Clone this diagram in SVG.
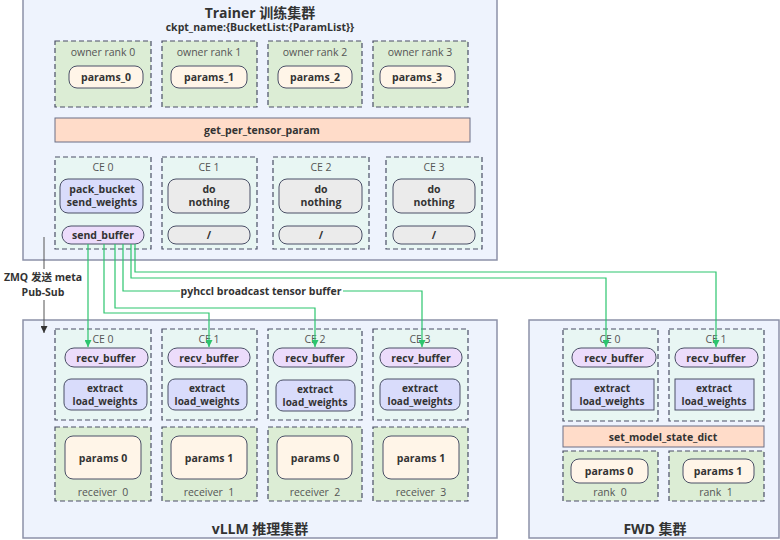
<svg xmlns="http://www.w3.org/2000/svg" width="780" height="540" viewBox="0 0 780 540">
<defs>
<style>
text{font-family:"Open Sans","Noto Sans CJK SC",sans-serif;text-anchor:middle;dominant-baseline:central;fill:#333}
.b{font-weight:bold;font-size:10.5px}
.e{font-weight:bold;font-size:10px}
.t{font-weight:bold;font-size:14px}
.s{font-weight:bold;font-size:10.5px}
.l{font-size:10.5px;fill:#555;white-space:pre}
.cl{fill:#eef3fd;stroke:#8c91a8;stroke-width:1.5}
.grp{fill:#dcedd5;stroke:#4a4f66;stroke-width:1.2;stroke-dasharray:5 3}
.ce{fill:#e8f6f3;stroke:#4a4f66;stroke-width:1.2;stroke-dasharray:5 3}
.par{fill:#fff5e8;stroke:#4a4f66;stroke-width:1}
.op{fill:#d9dcfb;stroke:#4a4f66;stroke-width:1}
.no{fill:#ebebeb;stroke:#4a4f66;stroke-width:1}
.buf{fill:#ecdcfb;stroke:#4a4f66;stroke-width:1}
.bar{fill:#ffdcc9;stroke:#6a6f86;stroke-width:1}
.g{fill:none;stroke:#2cc56e;stroke-width:1.2}
.z{fill:none;stroke:#555;stroke-width:1}
</style>
<marker id="ag" viewBox="0 0 10 10" refX="10" refY="5" markerWidth="7" markerHeight="7" orient="auto" markerUnits="userSpaceOnUse">
<path d="M0,0 L10,5 L0,10 z" fill="#2cc56e"/>
</marker>
<marker id="ak" viewBox="0 0 10 10" refX="10" refY="5" markerWidth="7" markerHeight="7" orient="auto" markerUnits="userSpaceOnUse">
<path d="M0,0 L10,5 L0,10 z" fill="#333"/>
</marker>
</defs>
<rect width="780" height="540" fill="#fff"/>

<g id="trainer">
<rect class="cl" x="23" y="-2" width="474" height="262"/>
<text class="t" x="260" y="12">Trainer 训练集群</text>
<text class="s" x="260" y="27">ckpt_name:{BucketList:{ParamList}}</text>
</g>
<g id="owner0"><rect class="grp" x="55" y="41" width="96" height="66"/><text class="l" x="103" y="52">owner rank 0</text><rect class="par" x="69" y="66" width="74" height="22" rx="8"/><text class="b" x="106" y="77">params_0</text></g>
<g id="owner1"><rect class="grp" x="162" y="41" width="95" height="66"/><text class="l" x="209" y="52">owner rank 1</text><rect class="par" x="171" y="66" width="76" height="22" rx="8"/><text class="b" x="209" y="77">params_1</text></g>
<g id="owner2"><rect class="grp" x="268" y="41" width="94" height="66"/><text class="l" x="315" y="52">owner rank 2</text><rect class="par" x="278" y="66" width="74" height="22" rx="8"/><text class="b" x="315" y="77">params_2</text></g>
<g id="owner3"><rect class="grp" x="373" y="41" width="95" height="66"/><text class="l" x="420" y="52">owner rank 3</text><rect class="par" x="380" y="66" width="75" height="22" rx="8"/><text class="b" x="417" y="77">params_3</text></g>
<g id="getparam"><rect class="bar" x="55" y="118" width="415" height="24"/><text class="b" x="262" y="130">get_per_tensor_param</text></g>

<g id="tce0"><rect class="ce" x="55" y="157" width="96" height="92"/><text class="l" x="103" y="167">CE 0</text>
<rect class="op" x="60" y="179" width="83" height="34" rx="8"/><text class="b" x="102" y="189">pack_bucket</text><text class="b" x="102" y="202">send_weights</text>
<rect class="buf" x="62" y="226" width="82" height="18" rx="9"/><text class="b" x="103" y="235">send_buffer</text></g>
<g id="tce1"><rect class="ce" x="162" y="157" width="95" height="92"/><text class="l" x="209" y="167">CE 1</text>
<rect class="no" x="168" y="179" width="82" height="34" rx="8"/><text class="b" x="209" y="189">do</text><text class="b" x="209" y="202">nothing</text>
<rect class="no" x="168" y="226" width="82" height="18" rx="8"/><text class="b" x="209" y="235">/</text></g>
<g id="tce2"><rect class="ce" x="273" y="157" width="96" height="92"/><text class="l" x="321" y="167">CE 2</text>
<rect class="no" x="279" y="179" width="83" height="34" rx="8"/><text class="b" x="321" y="189">do</text><text class="b" x="321" y="202">nothing</text>
<rect class="no" x="279" y="226" width="83" height="18" rx="8"/><text class="b" x="321" y="235">/</text></g>
<g id="tce3"><rect class="ce" x="386" y="157" width="96" height="92"/><text class="l" x="434" y="167">CE 3</text>
<rect class="no" x="393" y="179" width="82" height="34" rx="8"/><text class="b" x="434" y="189">do</text><text class="b" x="434" y="202">nothing</text>
<rect class="no" x="393" y="226" width="82" height="18" rx="8"/><text class="b" x="434" y="235">/</text></g>

<g id="vllm">
<rect class="cl" x="23" y="320" width="474" height="218"/>
<text class="t" x="260" y="528">vLLM 推理集群</text>
</g>
<g id="vce0"><rect class="ce" x="55" y="329" width="96" height="91"/><text class="l" x="103" y="339">CE 0</text>
<rect class="buf" x="65" y="348" width="83" height="19" rx="9"/><text class="b" x="106" y="357.5">recv_buffer</text>
<rect class="op" x="64" y="379" width="83" height="31" rx="7"/><text class="e" x="105" y="388">extract</text><text class="e" x="105" y="401">load_weights</text></g>
<g id="vce1"><rect class="ce" x="162" y="329" width="95" height="91"/><text class="l" x="209" y="339">CE 1</text>
<rect class="buf" x="168" y="348" width="82" height="19" rx="9"/><text class="b" x="209" y="357.5">recv_buffer</text>
<rect class="op" x="168" y="379" width="79" height="31" rx="7"/><text class="e" x="207" y="388">extract</text><text class="e" x="207" y="401">load_weights</text></g>
<g id="vce2"><rect class="ce" x="268" y="329" width="94" height="91"/><text class="l" x="315" y="339">CE 2</text>
<rect class="buf" x="273" y="348" width="84" height="19" rx="9"/><text class="b" x="315" y="357.5">recv_buffer</text>
<rect class="op" x="276" y="380" width="79" height="31" rx="7"/><text class="e" x="315" y="389">extract</text><text class="e" x="315" y="402">load_weights</text></g>
<g id="vce3"><rect class="ce" x="373" y="329" width="95" height="91"/><text class="l" x="420" y="339">CE 3</text>
<rect class="buf" x="380" y="348" width="82" height="19" rx="9"/><text class="b" x="421" y="357.5">recv_buffer</text>
<rect class="op" x="380" y="379" width="80" height="31" rx="7"/><text class="e" x="420" y="388">extract</text><text class="e" x="420" y="401">load_weights</text></g>
<g id="recv0"><rect class="grp" x="55" y="427" width="96" height="74"/><rect class="par" x="65" y="436" width="76" height="43" rx="8"/><text class="b" x="103" y="458">params 0</text><text class="l" x="103" y="492" xml:space="preserve">receiver  0</text></g>
<g id="recv1"><rect class="grp" x="162" y="427" width="95" height="74"/><rect class="par" x="171" y="436" width="76" height="43" rx="8"/><text class="b" x="209" y="458">params 1</text><text class="l" x="209" y="492" xml:space="preserve">receiver  1</text></g>
<g id="recv2"><rect class="grp" x="268" y="427" width="94" height="74"/><rect class="par" x="277" y="436" width="75" height="43" rx="8"/><text class="b" x="315" y="458">params 0</text><text class="l" x="315" y="492" xml:space="preserve">receiver  2</text></g>
<g id="recv3"><rect class="grp" x="373" y="427" width="95" height="74"/><rect class="par" x="383" y="436" width="76" height="43" rx="8"/><text class="b" x="421" y="458">params 1</text><text class="l" x="421" y="492" xml:space="preserve">receiver  3</text></g>

<g id="fwd">
<rect class="cl" x="529" y="320" width="250" height="218"/>
<text class="t" x="655" y="528">FWD 集群</text>
</g>
<g id="fce0"><rect class="ce" x="563" y="329" width="95" height="92"/><text class="l" x="610" y="339">CE 0</text>
<rect class="buf" x="572" y="348" width="84" height="19" rx="9"/><text class="b" x="614" y="357.5">recv_buffer</text>
<rect class="op" x="571" y="379" width="83" height="31"/><text class="e" x="612" y="388">extract</text><text class="e" x="612" y="401">load_weights</text></g>
<g id="fce1"><rect class="ce" x="669" y="329" width="95" height="92"/><text class="l" x="716" y="339">CE 1</text>
<rect class="buf" x="675" y="348" width="83" height="19" rx="9"/><text class="b" x="716" y="357.5">recv_buffer</text>
<rect class="op" x="675" y="379" width="79" height="31"/><text class="e" x="714" y="388">extract</text><text class="e" x="714" y="401">load_weights</text></g>
<g id="setstate"><rect class="bar" x="563" y="426" width="201" height="21"/><text class="b" x="663" y="436.5">set_model_state_dict</text></g>
<g id="rank0"><rect class="grp" x="563" y="451" width="95" height="50"/><rect class="par" x="571" y="459" width="77" height="24" rx="8"/><text class="b" x="609" y="471">params 0</text><text class="l" x="610" y="492" xml:space="preserve">rank  0</text></g>
<g id="rank1"><rect class="grp" x="669" y="451" width="95" height="50"/><rect class="par" x="683" y="459" width="71" height="24" rx="8"/><text class="b" x="718" y="471">params 1</text><text class="l" x="716" y="492" xml:space="preserve">rank  1</text></g>

<g id="connectors">
<path class="g" d="M88,244 V347" marker-end="url(#ag)"/>
<path class="g" d="M104,244 V313 H209 V347" marker-end="url(#ag)"/>
<path class="g" d="M115,244 V308 H315 V347" marker-end="url(#ag)"/>
<path class="g" d="M123,244 V291 H422 V347" marker-end="url(#ag)"/>
<path class="g" d="M131,244 V278 H606 V347" marker-end="url(#ag)"/>
<path class="g" d="M135,244 V272 H716 V347" marker-end="url(#ag)"/>
<rect x="180" y="284" width="163" height="14" fill="#fff"/>
<text class="s" x="261" y="290.5">pyhccl broadcast tensor buffer</text>
<path class="z" d="M44,237 V269"/>
<path class="z" d="M44,300 V333" marker-end="url(#ak)"/>
<text class="s" x="43" y="277">ZMQ 发送 meta</text>
<text class="s" x="43" y="292">Pub-Sub</text>
</g>
</svg>
